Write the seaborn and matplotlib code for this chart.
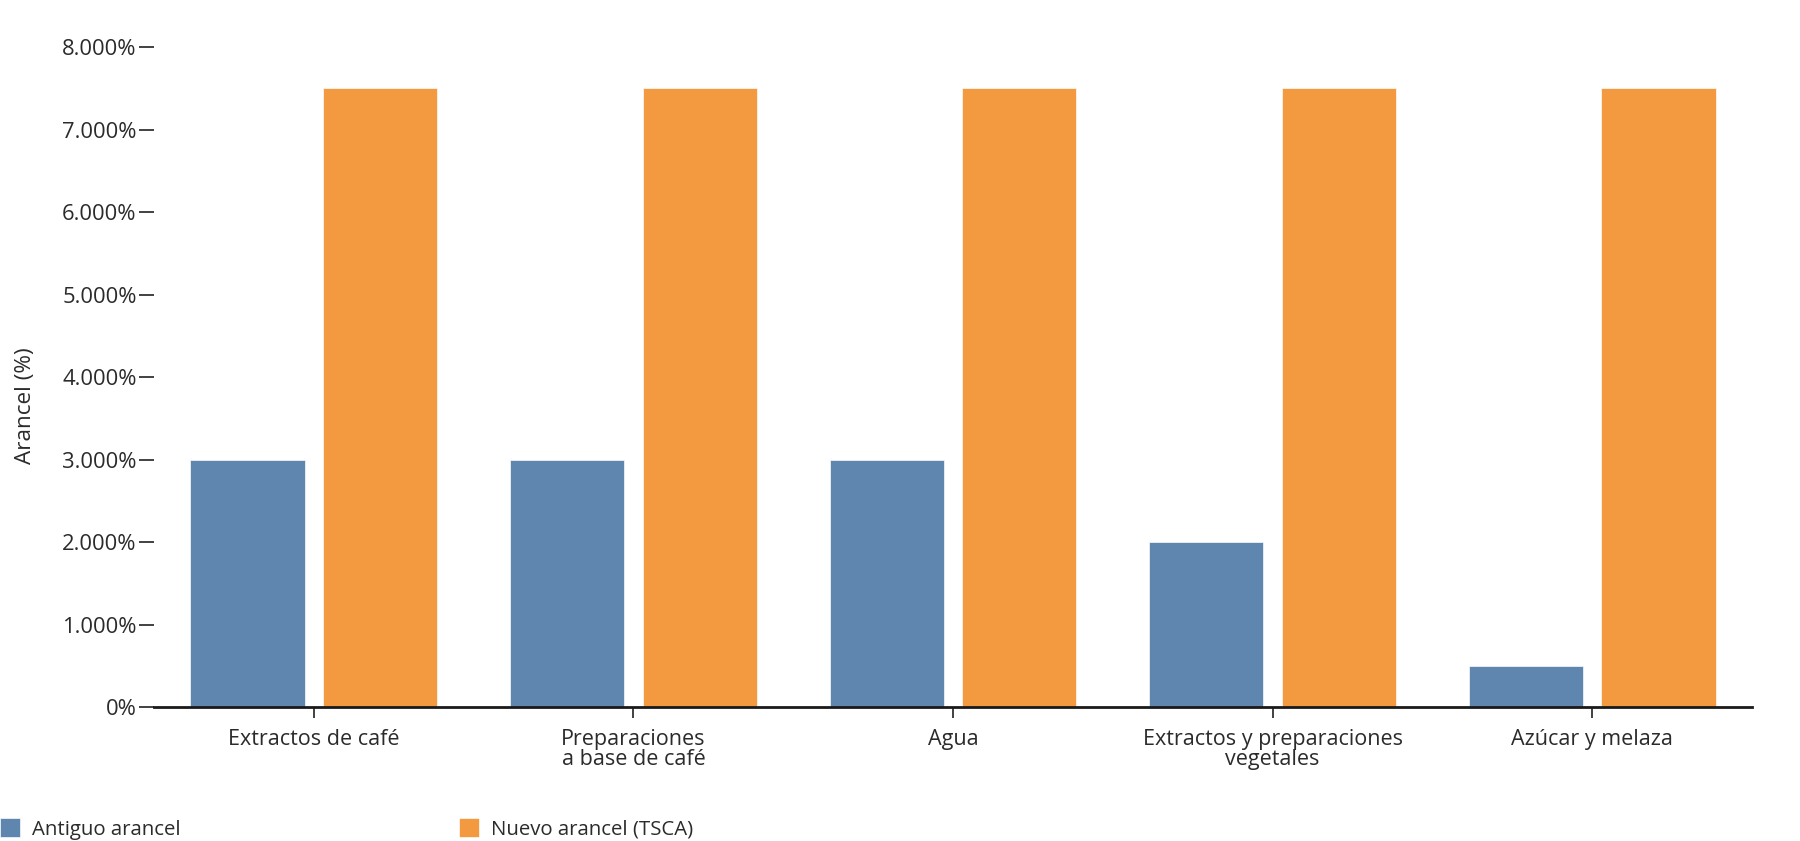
import pandas as pd
import seaborn as sns
import matplotlib.pyplot as plt

# Datos
categorias = ['Extractos de café', 'Preparaciones\na base de café', 'Agua',
              'Extractos y preparaciones\nvegetales', 'Azúcar y melaza']
antiguo = [3.0, 3.0, 3.0, 2.0, 0.5]
nuevo = [7.5, 7.5, 7.5, 7.5, 7.5]
series = ['Antiguo arancel', 'Nuevo arancel (TSCA)']
yticks = [0, 1, 2, 3, 4, 5, 6, 7, 8]
ytick_labels = ['0%', '1.000%', '2.000%', '3.000%', '4.000%',
                '5.000%', '6.000%', '7.000%', '8.000%']

df = pd.DataFrame({
    'categoria': categorias * 2,
    'serie': [series[0]] * len(categorias) + [series[1]] * len(categorias),
    'arancel': antiguo + nuevo,
})

sns.set_style('white')
plt.rcParams['font.family'] = ['Open Sans', 'DejaVu Sans']
texto = '#2b2b2b'

fig = plt.figure(figsize=(18, 8.41), dpi=100)
ax = fig.add_axes([154 / 1800, 1 - 707 / 841, (1752 - 154) / 1800, (707 - 43) / 841])

sns.barplot(data=df, x='categoria', y='arancel', hue='serie',
            palette=['#4e79a7', '#f28e2b'], saturation=1, alpha=0.9,
            width=0.83, gap=0.14, edgecolor='white', linewidth=0.5,
            ax=ax, legend=True)

ax.set_xlim(-0.5, 4.5)
ax.set_ylim(0, 8.05)
ax.set_yticks(yticks)
ax.set_yticklabels(ytick_labels)
ax.set_xlabel('')
ax.set_ylabel('')

for s in ['top', 'right', 'left']:
    ax.spines[s].set_visible(False)
ax.spines['bottom'].set_color('#1a1a1a')
ax.spines['bottom'].set_linewidth(2)

ax.tick_params(axis='y', length=11, width=1.3, color='#333333', pad=1.5,
               labelsize=15.8, labelcolor=texto, left=True)
ax.tick_params(axis='x', length=8, width=1.3, color='#333333', pad=8,
               labelsize=15.5, labelcolor=texto, bottom=True)
for lbl in ax.get_xticklabels():
    lbl.set_linespacing(0.92)
    lbl.set_verticalalignment('top')

fig.text(26 / 1800, 1 - 406 / 841, 'Arancel (%)', rotation=90, ha='center',
         va='center', fontsize=16.2, color=texto)

handles, labels = ax.get_legend_handles_labels()
ax.get_legend().remove()
fig.legend(handles, labels, loc='center left', bbox_to_anchor=(0, 1 - 829 / 841),
           ncol=2, frameon=False, fontsize=14.7, handlelength=0.98, handleheight=0.98,
           handletextpad=0.6, columnspacing=13.6, borderpad=0, borderaxespad=0,
           labelcolor=texto)

fig.savefig('out.png', dpi=100)
